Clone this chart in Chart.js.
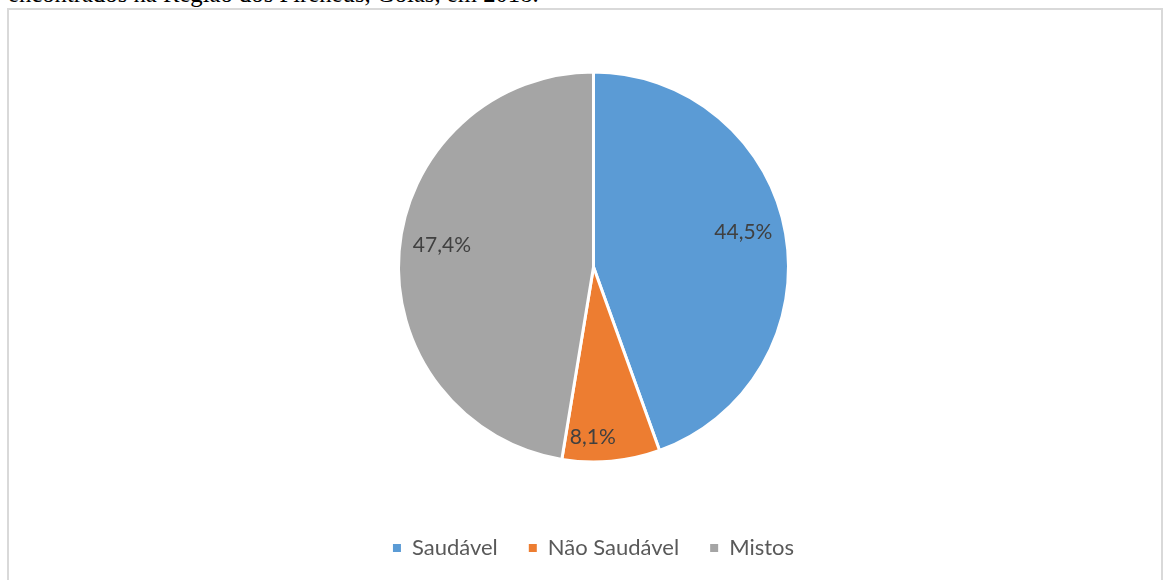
<!DOCTYPE html>
<html>
<head>
<meta charset="utf-8">
<script src="https://cdn.jsdelivr.net/npm/chart.js@4.4.0/dist/chart.umd.min.js"></script>
<style>
  html, body { margin: 0; padding: 0; background: #fff; overflow: hidden; }
  #page { position: relative; width: 1163px; height: 580px; }
  #caption { position: absolute; left: 8px; top: -20px; font-family: "Liberation Serif", serif; font-size: 24.7px; line-height: normal; color: #000; white-space: nowrap; }
  #frame { position: absolute; left: 7px; top: 8px; width: 1152px; height: 600px; border: 2px solid #d9d9d9; }
  #c { position: absolute; left: 0; top: 0; }
</style>
</head>
<body>
<div id="page">
  <div id="caption">encontrados na Região dos Pireneus, Goiás, em 2018.</div>
  <div id="frame"></div>
  <canvas id="c" width="1163" height="580"></canvas>
</div>
<script>
const categories = ["Saudável", "Não Saudável", "Mistos"];
const values = [44.5, 8.1, 47.4];
const valueLabels = ["44,5%", "8,1%", "47,4%"];
const colors = ["#5b9bd5", "#ed7d31", "#a5a5a5"];

const labelPlugin = {
  id: 'sliceLabels',
  afterDatasetsDraw(chart) {
    const ctx = chart.ctx;
    const meta = chart.getDatasetMeta(0);
    ctx.save();
    ctx.font = '21px Lato, "Open Sans", sans-serif';
    ctx.fillStyle = '#404040';
    ctx.textAlign = 'center';
    ctx.textBaseline = 'middle';
    meta.data.forEach((arc, i) => {
      const p = arc.getProps(['x', 'y', 'startAngle', 'endAngle', 'outerRadius'], true);
      const span = p.endAngle - p.startAngle;
      const big = span > 1;
      const mid = (p.startAngle + p.endAngle) / 2 + (big ? 0 : 0.095);
      const f = big ? 0.78 : 0.875;
      const dy = big ? -9 : 0;
      ctx.fillText(valueLabels[i], p.x + Math.cos(mid) * p.outerRadius * f, p.y + Math.sin(mid) * p.outerRadius * f + dy);
    });
    ctx.restore();
  }
};

new Chart(document.getElementById('c'), {
  type: 'pie',
  data: {
    labels: categories,
    datasets: [{
      data: values,
      backgroundColor: colors,
      borderColor: '#ffffff',
      borderWidth: 3,
      radius: 195
    }]
  },
  options: {
    responsive: false,
    animation: false,
    layout: { padding: { top: 28, bottom: 11, left: 24, right: 0 } },
    plugins: {
      tooltip: { enabled: false },
      legend: {
        position: 'bottom',
        labels: {
          boxWidth: 8,
          boxHeight: 8,
          padding: 31,
          color: '#595959',
          font: { family: 'Lato, "Open Sans", sans-serif', size: 22 },
          generateLabels(chart) {
            const items = Chart.overrides.pie.plugins.legend.labels.generateLabels(chart);
            return items.map(it => Object.assign(it, { lineWidth: 0, strokeStyle: it.fillStyle }));
          }
        }
      }
    }
  },
  plugins: [labelPlugin]
});
</script>
</body>
</html>
